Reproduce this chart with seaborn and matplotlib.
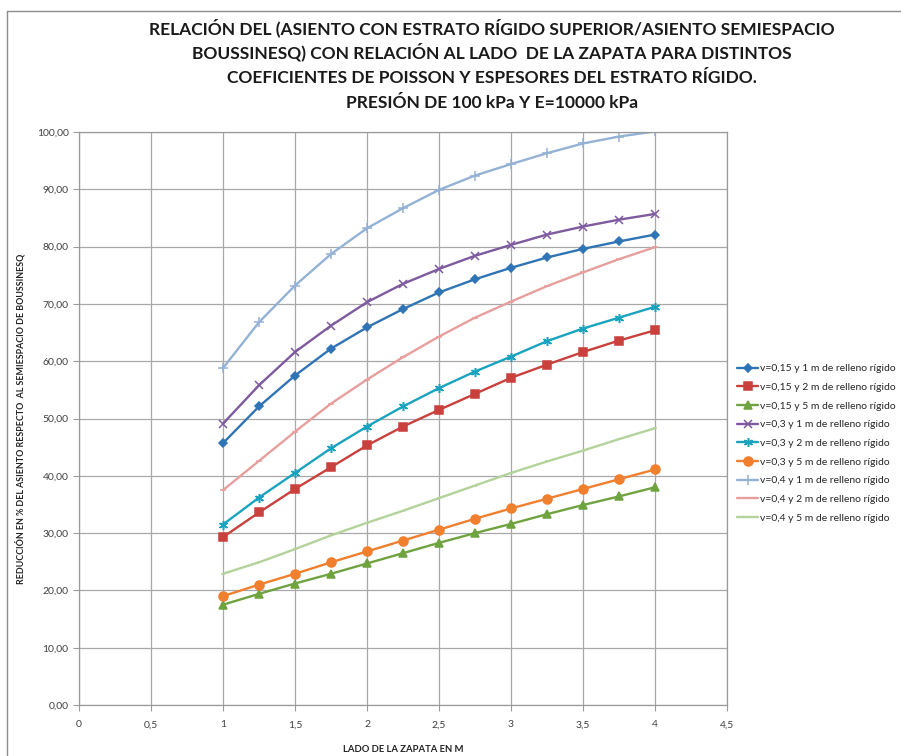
import numpy as np
import pandas as pd
import matplotlib
matplotlib.use("Agg")
import matplotlib.pyplot as plt
import seaborn as sns
from matplotlib.lines import Line2D

# lado de la zapata (m)
lado = [1, 1.25, 1.5, 1.75, 2, 2.25, 2.5, 2.75, 3, 3.25, 3.5, 3.75, 4]

v015_1m = [45.7, 52.1, 57.5, 62.2, 65.9, 69.1, 72.0, 74.3, 76.3, 78.1, 79.6, 80.9, 82.1]
v015_2m = [29.3, 33.6, 37.7, 41.5, 45.3, 48.6, 51.5, 54.3, 57.1, 59.4, 61.6, 63.6, 65.4]
v015_5m = [17.5, 19.4, 21.2, 22.9, 24.7, 26.5, 28.3, 30.0, 31.6, 33.3, 34.9, 36.4, 38.0]
v03_1m = [49.1, 55.8, 61.6, 66.2, 70.3, 73.5, 76.1, 78.4, 80.3, 82.1, 83.5, 84.7, 85.7]
v03_2m = [31.5, 36.2, 40.5, 44.8, 48.6, 52.1, 55.3, 58.2, 60.8, 63.5, 65.7, 67.6, 69.5]
v03_5m = [19.0, 21.0, 22.9, 24.9, 26.8, 28.7, 30.6, 32.5, 34.3, 36.0, 37.7, 39.4, 41.1]
v04_1m = [58.8, 66.8, 73.2, 78.7, 83.2, 86.7, 89.9, 92.4, 94.4, 96.3, 98.0, 99.2, 100.1]
v04_2m = [37.5, 42.6, 47.7, 52.6, 56.8, 60.7, 64.3, 67.6, 70.4, 73.1, 75.5, 77.8, 79.9]
v04_5m = [22.9, 24.9, 27.2, 29.6, 31.8, 33.9, 36.1, 38.3, 40.5, 42.5, 44.4, 46.4, 48.3]

etiquetas = [
    "v=0,15 y 1 m de relleno rígido",
    "v=0,15 y 2 m de relleno rígido",
    "v=0,15 y 5 m de relleno rígido",
    "v=0,3 y 1 m de relleno rígido",
    "v=0,3 y 2 m de relleno rígido",
    "v=0,3 y 5 m de relleno rígido",
    "v=0,4 y 1 m de relleno rígido",
    "v=0,4 y 2 m de relleno rígido",
    "v=0,4 y 5 m de relleno rígido",
]
series = [v015_1m, v015_2m, v015_5m, v03_1m, v03_2m, v03_5m, v04_1m, v04_2m, v04_5m]

titulo = [
    "RELACIÓN DEL (ASIENTO CON ESTRATO RÍGIDO SUPERIOR/ASIENTO SEMIESPACIO",
    "BOUSSINESQ) CON RELACIÓN AL LADO  DE LA ZAPATA PARA DISTINTOS",
    "COEFICIENTES DE POISSON Y ESPESORES DEL ESTRATO RÍGIDO.",
    "PRESIÓN DE 100 kPa Y E=10000 kPa",
]

colores = ["#2f74b5", "#c9403c", "#6fa33f", "#7e5a9f", "#1aa3bf",
           "#f07f2e", "#93b2d6", "#e79f9e", "#b3d39a"]
marcas = ["D", "s", "^", "x", (6, 2, 0), "o", "+", "_", "_"]
tam = [4.5, 6, 6, 6, 6.5, 6.5, 6.5, 4, 3]

sns.set_theme(style="white")
plt.rcParams["font.family"] = ["Lato", "DejaVu Sans"]

fig = plt.figure(figsize=(9.01, 7.56), dpi=100)
ax = fig.add_axes([79 / 901, 51 / 756, 648 / 901, 573 / 756])

for nombre, vals, c, m, s in zip(etiquetas, series, colores, marcas, tam):
    df = pd.DataFrame({"lado": lado, "valor": vals})
    sns.lineplot(data=df, x="lado", y="valor", ax=ax, color=c, lw=1.7,
                 marker=m, markersize=s, markeredgecolor=c, markeredgewidth=1.1,
                 label=nombre, legend=False)

ax.set_xlim(0, 4.5)
ax.set_ylim(0, 100)
ax.set_xticks(np.arange(0, 4.51, 0.5))
ax.set_yticks(np.arange(0, 100.1, 10))
ax.set_xticklabels([("%g" % t).replace(".", ",") for t in np.arange(0, 4.51, 0.5)])
ax.set_yticklabels([("%.2f" % t).replace(".", ",") for t in np.arange(0, 100.1, 10)])
ax.grid(True, color="#a8a8a8", lw=0.9)
for sp in ax.spines.values():
    sp.set_color("#9a9a9a")
    sp.set_linewidth(0.9)
ax.tick_params(axis="both", which="both", length=4, width=0.8, color="#9a9a9a",
               labelsize=7.5, labelcolor="#404040", direction="out",
               bottom=True, left=True)
ax.tick_params(axis="x", pad=7)

ax.set_xlabel("LADO DE LA ZAPATA EN M", fontsize=6.8, fontweight="bold",
              color="#222222")
ax.xaxis.set_label_coords(0.5, -40 / 573)
ax.set_ylabel("REDUCCIÓN EN % DEL ASIENTO RESPECTO  AL SEMIESPACIO DE BOUSSINESQ",
              fontsize=6.4, fontweight="bold", color="#222222")
ax.yaxis.set_label_coords(-53 / 648, 0.5)

handles = [Line2D([], [], color=c, lw=1.7, marker=m, markersize=s,
                  markeredgecolor=c, markeredgewidth=1.1)
           for c, m, s in zip(colores, marcas, tam)]
fig.legend(handles, etiquetas, loc="upper left", bbox_to_anchor=(733 / 901, 1 - 360 / 756),
           frameon=False, fontsize=7.5, handlelength=2.0, handletextpad=0.2,
           labelspacing=0.9, borderaxespad=0)

for i, linea in enumerate(titulo):
    fig.text(0.546, 1 - (34 + 24.6 * i) / 756, linea, ha="center", va="baseline",
             fontsize=12.5, fontweight="bold", color="#1a1a1a")

# marco exterior del gráfico
fig.add_artist(Line2D([7 / 901, 1], [1 - 11 / 756, 1 - 11 / 756],
                      transform=fig.transFigure, color="#8c8c8c", lw=1))
fig.add_artist(Line2D([7 / 901, 7 / 901], [0, 1 - 11 / 756],
                      transform=fig.transFigure, color="#8c8c8c", lw=1))

fig.savefig("out.png", dpi=100)
